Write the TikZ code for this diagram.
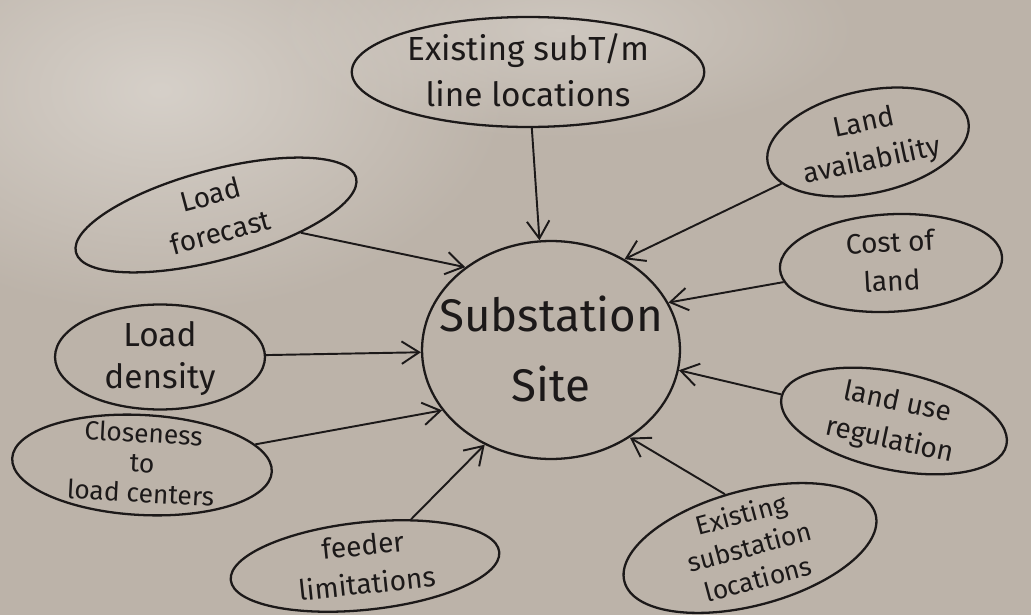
\documentclass[tikz,border=0pt]{standalone}
\usepackage{fontspec}
\setmainfont{Fira Sans}
\usetikzlibrary{shapes.geometric,arrows.meta,fadings}
\definecolor{paper}{HTML}{BCB3A9}
\definecolor{paperlight}{HTML}{D6D0C9}
\definecolor{ink}{HTML}{1C1919}
\tikzfading[name=soft glow, inner color=transparent!0, outer color=transparent!100]
% text set in a box of no size, so the outline keeps its own measures
\newcommand{\bubbletext}[1]{\makebox[0pt]{\raisebox{-0.3em}[0pt][0pt]{\begin{tabular}{@{}c@{}}#1\end{tabular}}}}
\tikzset{
  bubble/.style={ellipse, draw=ink, line width=1.3pt, inner sep=0pt,
    text=ink, font=\fontsize{16}{22}\selectfont},
  feed/.style={draw=ink, line width=1.1pt,
    -{Straight Barb[length=3.5mm,width=4.5mm,line width=1.1pt]}},
}
\begin{document}
\begin{tikzpicture}[x=0.02cm,y=-0.02cm]
\useasboundingbox (0,0) rectangle (1031,615);
% sheet of paper
\begin{scope}
  \clip (0,0) rectangle (1031,615);
  \fill[paper] (0,0) rectangle (1031,615);
  \fill[paperlight, path fading=soft glow] (160,90) ellipse [x radius=7cm, y radius=4.5cm];
  \fill[paperlight, path fading=soft glow, opacity=0.7] (560,30) ellipse [x radius=6cm, y radius=2.2cm];
\end{scope}

% central idea
\node[bubble, minimum width=5.16cm, minimum height=4.36cm,
      font=\fontsize{26}{40}\selectfont] (site) at (551,350) {\bubbletext{Substation\\Site}};

% influencing factors
\node[bubble, minimum width=7.05cm, minimum height=2.2cm,
      font=\fontsize{19}{26}\selectfont] (top) at (528,72) {\bubbletext{Existing subT/m\\line locations}};
\node[bubble, rotate=12, minimum width=4.1cm, minimum height=2.05cm] (avail) at (868,142) {\bubbletext{Land\\availability}};
\node[bubble, rotate=3, minimum width=4.45cm, minimum height=1.95cm] (cost) at (891,263) {\bubbletext{Cost of\\land}};
\node[bubble, rotate=-12, minimum width=4.6cm, minimum height=1.95cm] (landuse) at (894,421) {\bubbletext{land use\\regulation}};
\node[bubble, rotate=15, minimum width=5.2cm, minimum height=2.3cm,
      font=\fontsize{15}{19}\selectfont] (exsub) at (750,548) {\bubbletext{Existing\\substation\\locations}};
\node[bubble, rotate=6, minimum width=5.4cm, minimum height=1.75cm] (feeder) at (365,566) {\bubbletext{feeder\\limitations}};
\node[bubble, rotate=-3, minimum width=5.2cm, minimum height=2.0cm,
      font=\fontsize{15}{17}\selectfont] (close) at (142,465) {\bubbletext{Closeness\\to\\load centers}};
\node[bubble, minimum width=4.2cm, minimum height=2.1cm,
      font=\fontsize{19}{24}\selectfont] (density) at (160,357) {\bubbletext{Load\\density}};
\node[bubble, rotate=15, minimum width=5.8cm, minimum height=1.8cm] (forecast) at (216,215) {\bubbletext{Load\\forecast}};

% connectors into the site
\draw[feed] (top) -- (site.96);
\draw[feed] (avail) -- (site.51);
\draw[feed] (cost) -- (site.22);
\draw[feed] (landuse) -- (site.351);
\draw[feed] (exsub.100) -- (site.312);
\draw[feed] (feeder) -- (site.235);
\draw[feed] (close) -- (site.209);
\draw[feed] (density) -- (site.181);
\draw[feed] (forecast) -- (site.136);
\end{tikzpicture}
\end{document}
